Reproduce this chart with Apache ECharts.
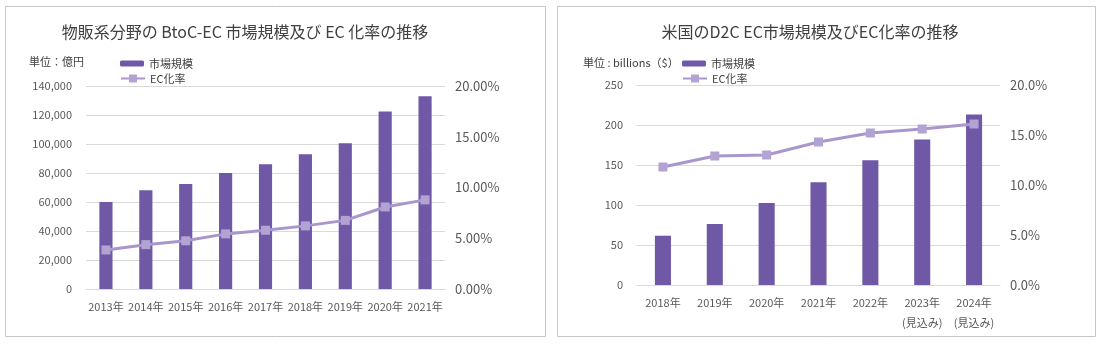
<!DOCTYPE html>
<html><head><meta charset="utf-8">
<script src="https://cdn.jsdelivr.net/npm/echarts@6/dist/echarts.min.js"></script>
<style>html,body{margin:0;padding:0;background:#fff}#c{width:1101px;height:358px}</style>
</head><body><div id="c"></div>
<script>
const leftCategories = ['2013年','2014年','2015年','2016年','2017年','2018年','2019年','2020年','2021年'];
const leftMarket = [59931, 68043, 72398, 80043, 86008, 92992, 100515, 122333, 132865];
const leftRate = [3.85, 4.37, 4.75, 5.43, 5.79, 6.22, 6.76, 8.08, 8.78];
const rightCategories = ['2018年','2019年','2020年','2021年','2022年','2023年\n(見込み)','2024年\n(見込み)'];
const rightMarket = [61.6, 76.1, 102.5, 128.3, 155.9, 182, 213];
const rightRate = [11.8, 12.9, 13.0, 14.3, 15.2, 15.6, 16.1];

const FONT = '"Noto Sans CJK JP", "Noto Sans", sans-serif';
const BAR = '#6f58a5', LINE = '#a996cc', MARK = '#b2a3d3', TXT = '#595959', GRID = '#d9d9d9';

const chart = echarts.init(document.getElementById('c'));
function yLeft(gi, max, interval, fmt){
  return {gridIndex: gi, type:'value', min:0, max:max, interval:interval,
    axisLine:{show:false}, axisTick:{show:false},
    splitLine:{lineStyle:{color:GRID, width:1}},
    axisLabel:{color:TXT, fontSize:11, fontFamily:FONT, margin:14, formatter:fmt}};
}
function yRight(gi, fmt){
  return {gridIndex: gi, type:'value', min:0, max:20, interval:5, position:'right',
    axisLine:{show:false}, axisTick:{show:false}, splitLine:{show:false},
    axisLabel:{color:TXT, fontSize:13, fontFamily:FONT, margin:10, formatter:fmt}};
}
function xAxis(gi, data){
  return {gridIndex: gi, type:'category', data:data,
    axisLine:{lineStyle:{color:GRID}}, axisTick:{show:false},
    axisLabel:{color:TXT, fontSize:11, fontFamily:FONT, margin:8, lineHeight:20, interval:0}};
}
const lineStyle = {color: LINE, width: 3};
chart.setOption({
  animation:false,
  textStyle:{fontFamily:FONT},
  graphic:[
    {type:'rect', shape:{x:5.5,y:6.5,width:540,height:330}, style:{fill:'none', stroke:'#c6c6c6', lineWidth:1}},
    {type:'rect', shape:{x:557.5,y:6.5,width:538,height:330}, style:{fill:'none', stroke:'#c6c6c6', lineWidth:1}},
    {type:'text', left:29, top:56, style:{text:'単位：億円', fill:'#404040', fontSize:11, fontFamily:FONT}},
    {type:'text', left:583, top:57, style:{text:'単位 : billions（$）', fill:'#404040', fontSize:11, fontFamily:FONT}}
  ],
  title:[
    {text:'物販系分野の BtoC-EC 市場規模及び EC 化率の推移', left:240, top:19, textAlign:'center',
     textStyle:{fontSize:16, fontWeight:'normal', color:'#404040', fontFamily:FONT}},
    {text:'米国のD2C EC市場規模及びEC化率の推移', left:805, top:19, textAlign:'center',
     textStyle:{fontSize:16, fontWeight:'normal', color:'#404040', fontFamily:FONT}}
  ],
  legend:[
    {data:['市場規模'], left:115, top:53, itemWidth:24, itemHeight:6, itemGap:4,
     textStyle:{fontSize:11, color:'#404040', fontFamily:FONT}},
    {data:['EC化率'], left:115, top:68, itemWidth:24, itemHeight:10,
     textStyle:{fontSize:11, color:'#404040', fontFamily:FONT}},
    {data:['市場規模'], left:677, top:53, itemWidth:24, itemHeight:6,
     textStyle:{fontSize:11, color:'#404040', fontFamily:FONT}},
    {data:['EC化率'], left:677, top:68, itemWidth:24, itemHeight:10,
     textStyle:{fontSize:11, color:'#404040', fontFamily:FONT}}
  ],
  grid:[
    {left:86, right:656, top:86, bottom:69},
    {left:637, right:101, top:85, bottom:73}
  ],
  xAxis:[xAxis(0, leftCategories), xAxis(1, rightCategories)],
  yAxis:[
    yLeft(0, 140000, 20000, v => v.toLocaleString('en-US')),
    yRight(0, v => v.toFixed(2) + '%'),
    yLeft(1, 250, 50, v => String(v)),
    yRight(1, v => v.toFixed(1) + '%')
  ],
  series:[
    {name:'市場規模', type:'bar', xAxisIndex:0, yAxisIndex:0, data:leftMarket, barWidth:'33%', itemStyle:{color:BAR}},
    {name:'EC化率', type:'line', xAxisIndex:0, yAxisIndex:1, data:leftRate, symbol:'rect', symbolSize:9,
     lineStyle:lineStyle, itemStyle:{color:MARK}},
    {name:'市場規模', type:'bar', xAxisIndex:1, yAxisIndex:2, data:rightMarket, barWidth:'31%', itemStyle:{color:BAR}},
    {name:'EC化率', type:'line', xAxisIndex:1, yAxisIndex:3, data:rightRate, symbol:'rect', symbolSize:9,
     lineStyle:lineStyle, itemStyle:{color:MARK}}
  ]
});
</script></body></html>
